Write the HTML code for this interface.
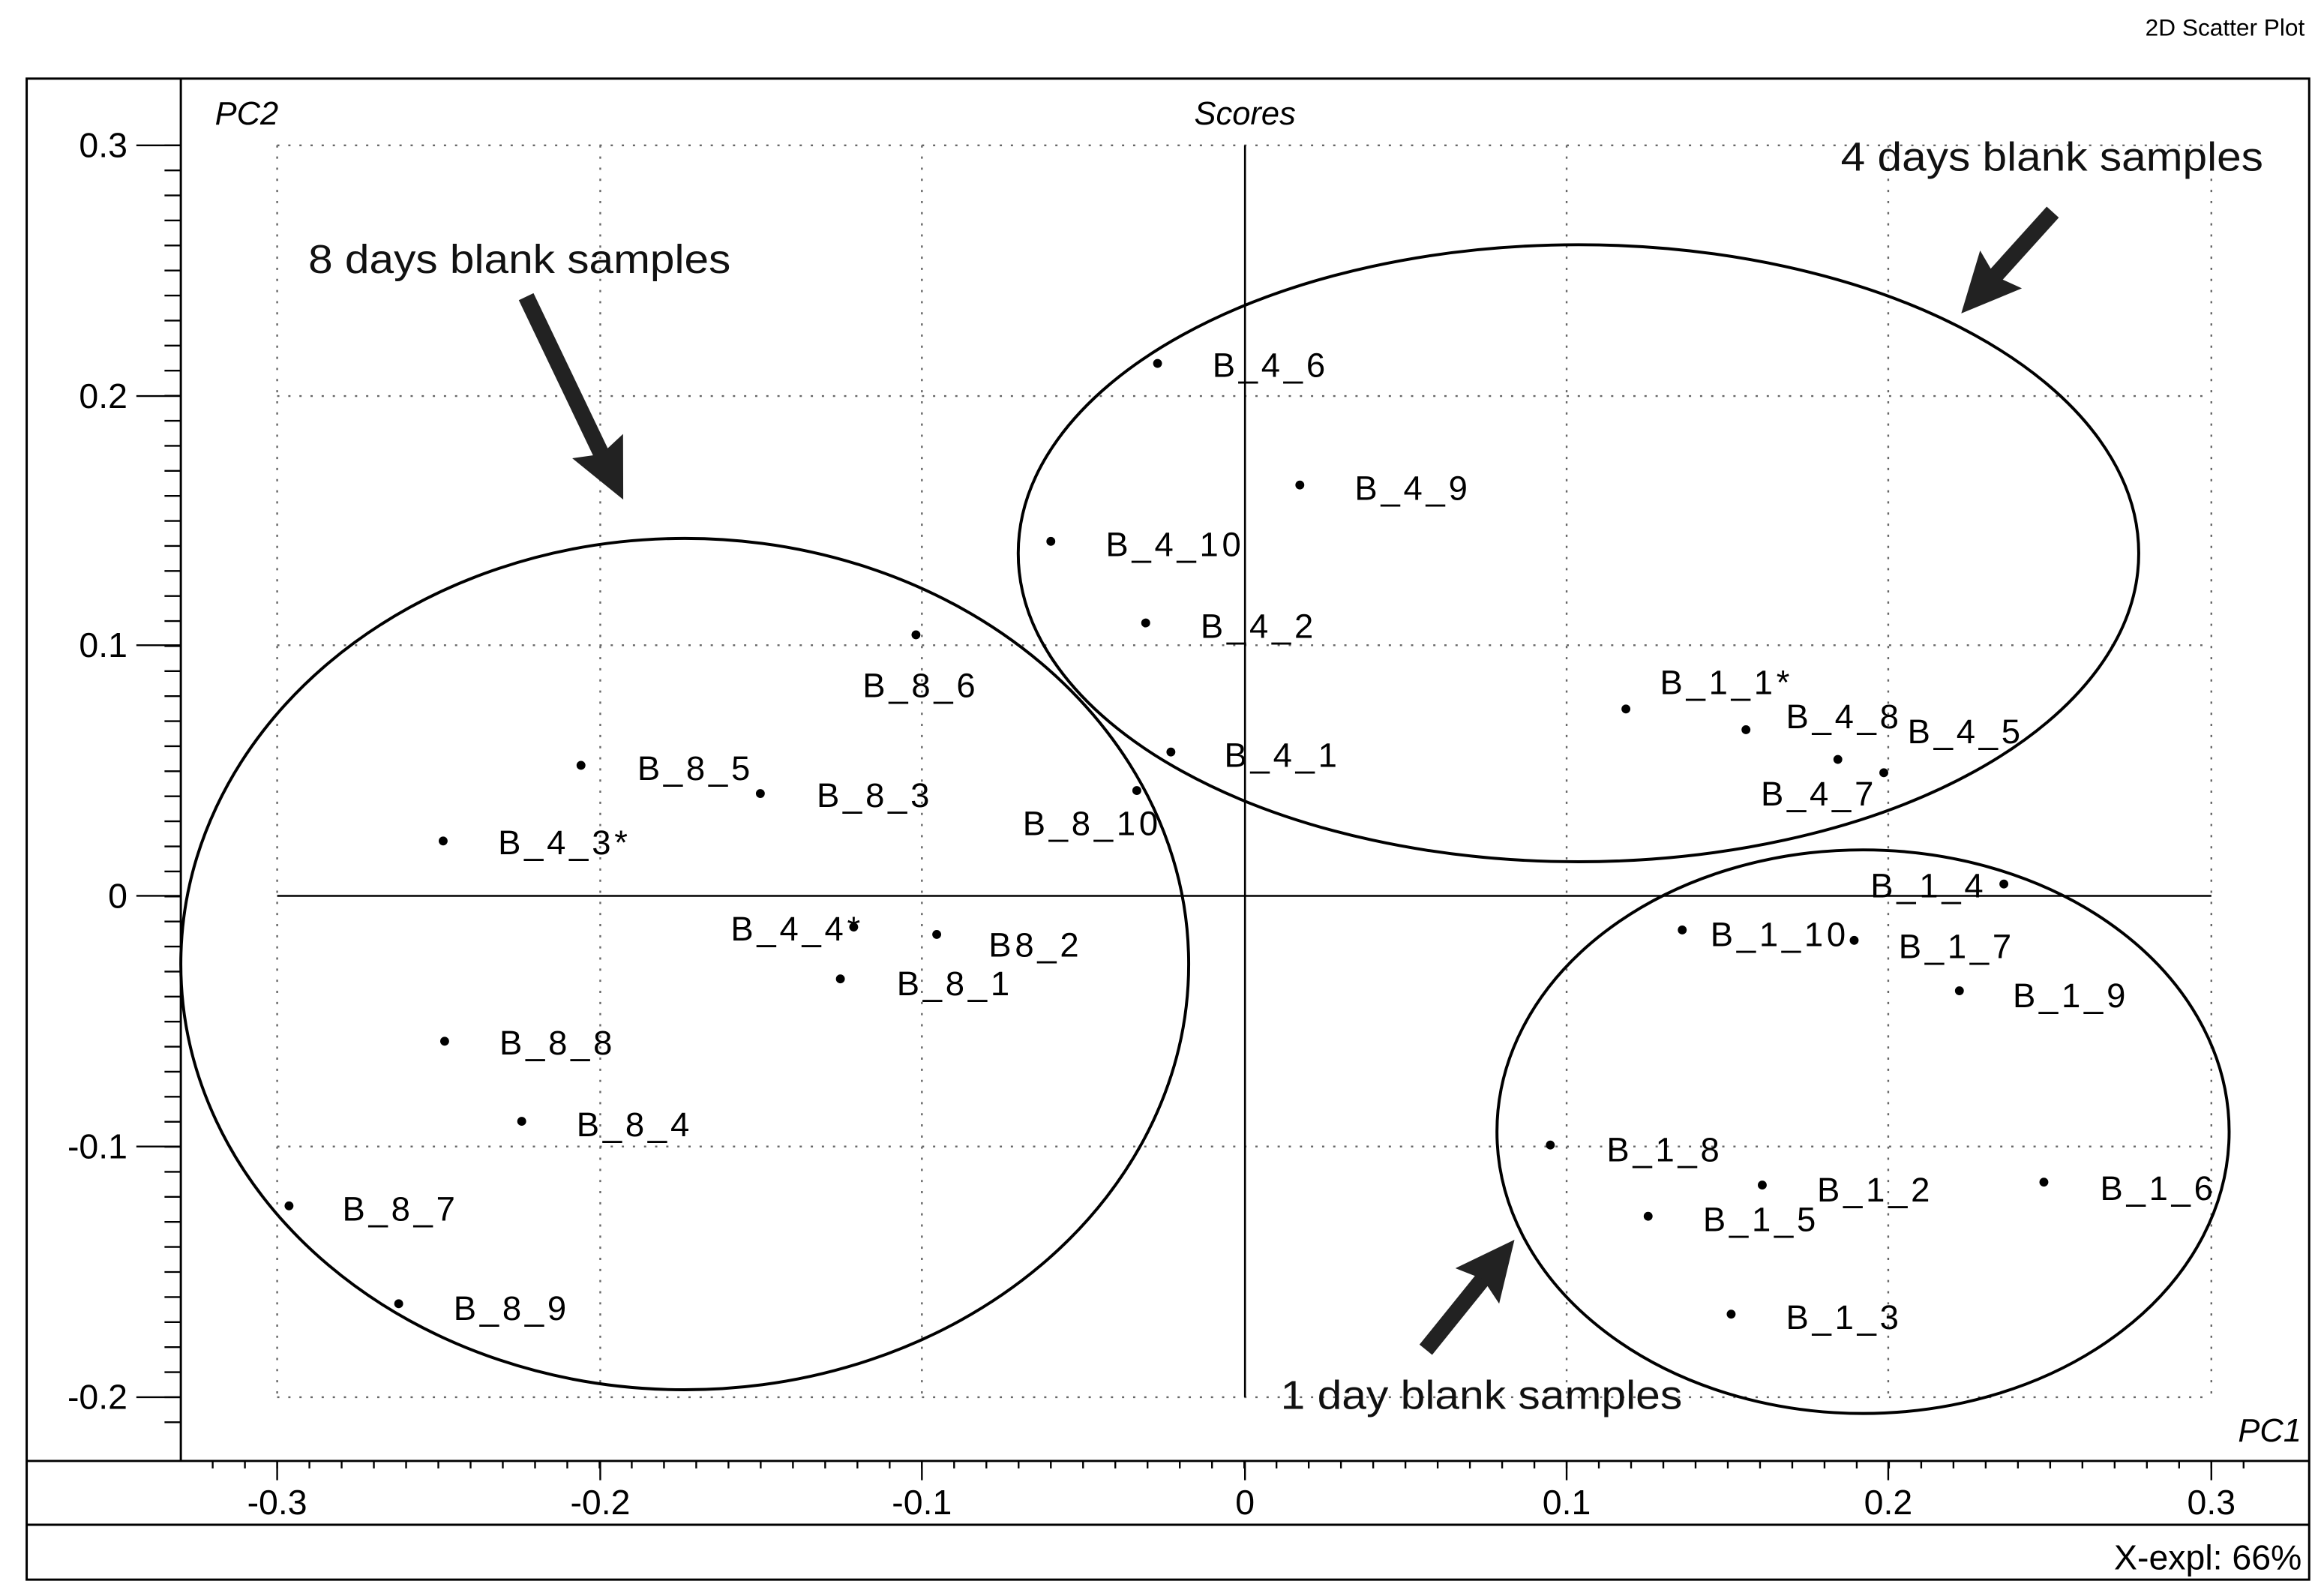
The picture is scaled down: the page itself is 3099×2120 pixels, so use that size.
<!DOCTYPE html>
<html><head><meta charset="utf-8"><style>
html,body{margin:0;padding:0;background:#fff;}
svg{display:block;}
.l{font-family:"Liberation Sans",sans-serif;font-size:23px;letter-spacing:2.4px;fill:#000;}
.t{font-family:"Liberation Sans",sans-serif;font-size:23.5px;fill:#000;}
.i{font-family:"Liberation Sans",sans-serif;font-size:22px;font-style:italic;fill:#000;}
.s{font-family:"Liberation Sans",sans-serif;font-size:27px;fill:#111;}
</style></head><body>
<svg width="3099" height="2120" viewBox="0 0 1568 1072" preserveAspectRatio="none" xmlns="http://www.w3.org/2000/svg">
<defs><marker id="ah" markerWidth="44" markerHeight="40" refX="18" refY="19" orient="auto" markerUnits="userSpaceOnUse"><path d="M0,0 L40,19 L0,38 L6,19 z" fill="#222"/></marker></defs>
<text x="1555" y="24" text-anchor="end" style="font-family:'Liberation Sans',sans-serif;font-size:16px">2D Scatter Plot</text>
<rect x="18" y="53" width="1540" height="1012" fill="none" stroke="#000" stroke-width="1.5"/>
<line x1="122" y1="53" x2="122" y2="985" stroke="#000" stroke-width="1.5"/>
<line x1="18" y1="985" x2="1558" y2="985" stroke="#000" stroke-width="1.5"/>
<line x1="18" y1="1028" x2="1558" y2="1028" stroke="#000" stroke-width="1.5"/>
<g stroke="#666" stroke-width="1.2" stroke-dasharray="1.5,6">
<line x1="187" y1="98" x2="1492" y2="98"/><line x1="187" y1="267" x2="1492" y2="267"/><line x1="187" y1="435" x2="1492" y2="435"/><line x1="187" y1="773" x2="1492" y2="773"/><line x1="187" y1="942" x2="1492" y2="942"/>
<line x1="187" y1="98" x2="187" y2="942"/><line x1="405" y1="98" x2="405" y2="942"/><line x1="622" y1="98" x2="622" y2="942"/><line x1="1057" y1="98" x2="1057" y2="942"/><line x1="1274" y1="98" x2="1274" y2="942"/><line x1="1492" y1="98" x2="1492" y2="942"/>
</g>
<line x1="840" y1="98" x2="840" y2="942" stroke="#000" stroke-width="1.3"/>
<line x1="187" y1="604" x2="1492" y2="604" stroke="#000" stroke-width="1.3"/>
<g stroke="#000" stroke-width="1.2" fill="none">
<path d="M111,98 h11 m-11,16.88 h11 m-11,16.88 h11 m-11,16.88 h11 m-11,16.88 h11 m-11,16.88 h11 m-11,16.88 h11 m-11,16.88 h11 m-11,16.88 h11 m-11,16.88 h11 m-11,16.88 h11 m-11,16.88 h11 m-11,16.88 h11 m-11,16.88 h11 m-11,16.88 h11 m-11,16.88 h11 m-11,16.88 h11 m-11,16.88 h11 m-11,16.88 h11 m-11,16.88 h11 m-11,16.88 h11 m-11,16.88 h11 m-11,16.88 h11 m-11,16.88 h11 m-11,16.88 h11 m-11,16.88 h11 m-11,16.88 h11 m-11,16.88 h11 m-11,16.88 h11 m-11,16.88 h11 m-11,16.88 h11 m-11,16.88 h11 m-11,16.88 h11 m-11,16.88 h11 m-11,16.88 h11 m-11,16.88 h11 m-11,16.88 h11 m-11,16.88 h11 m-11,16.88 h11 m-11,16.88 h11 m-11,16.88 h11 m-11,16.88 h11 m-11,16.88 h11 m-11,16.88 h11 m-11,16.88 h11 m-11,16.88 h11 m-11,16.88 h11 m-11,16.88 h11 m-11,16.88 h11 m-11,16.88 h11 m-11,16.88 h11 m-11,16.88 h11"/>
<path d="M143.5,985 v5 m21.75,-5 v5 m21.75,-5 v5 m21.75,-5 v5 m21.75,-5 v5 m21.75,-5 v5 m21.75,-5 v5 m21.75,-5 v5 m21.75,-5 v5 m21.75,-5 v5 m21.75,-5 v5 m21.75,-5 v5 m21.75,-5 v5 m21.75,-5 v5 m21.75,-5 v5 m21.75,-5 v5 m21.75,-5 v5 m21.75,-5 v5 m21.75,-5 v5 m21.75,-5 v5 m21.75,-5 v5 m21.75,-5 v5 m21.75,-5 v5 m21.75,-5 v5 m21.75,-5 v5 m21.75,-5 v5 m21.75,-5 v5 m21.75,-5 v5 m21.75,-5 v5 m21.75,-5 v5 m21.75,-5 v5 m21.75,-5 v5 m21.75,-5 v5 m21.75,-5 v5 m21.75,-5 v5 m21.75,-5 v5 m21.75,-5 v5 m21.75,-5 v5 m21.75,-5 v5 m21.75,-5 v5 m21.75,-5 v5 m21.75,-5 v5 m21.75,-5 v5 m21.75,-5 v5 m21.75,-5 v5 m21.75,-5 v5 m21.75,-5 v5 m21.75,-5 v5 m21.75,-5 v5 m21.75,-5 v5 m21.75,-5 v5 m21.75,-5 v5 m21.75,-5 v5 m21.75,-5 v5 m21.75,-5 v5 m21.75,-5 v5 m21.75,-5 v5 m21.75,-5 v5 m21.75,-5 v5 m21.75,-5 v5 m21.75,-5 v5 m21.75,-5 v5 m21.75,-5 v5 m21.75,-5 v5"/>
<path d="M92,98 h30 M92,267 h30 M92,435 h30 M92,604 h30 M92,773 h30 M92,942 h30"/>
<path d="M187,985 v13 M405,985 v13 M622,985 v13 M840,985 v13 M1057,985 v13 M1274,985 v13 M1492,985 v13"/>
</g>
<g class="t" text-anchor="end"><text x="86" y="106">0.3</text><text x="86" y="275">0.2</text><text x="86" y="443">0.1</text><text x="86" y="612">0</text><text x="86" y="781">-0.1</text><text x="86" y="950">-0.2</text></g>
<g class="t" text-anchor="middle"><text x="187" y="1021">-0.3</text><text x="405" y="1021">-0.2</text><text x="622" y="1021">-0.1</text><text x="840" y="1021">0</text><text x="1057" y="1021">0.1</text><text x="1274" y="1021">0.2</text><text x="1492" y="1021">0.3</text></g>
<text class="i" x="145" y="84">PC2</text>
<text class="i" x="840" y="84" text-anchor="middle">Scores</text>
<text class="i" x="1510" y="972">PC1</text>
<text class="t" x="1553" y="1058" text-anchor="end">X-expl: 66%</text>
<g fill="none" stroke="#000" stroke-width="2">
<ellipse cx="462" cy="650" rx="340" ry="287"/>
<ellipse cx="1065" cy="373" rx="378" ry="208"/>
<ellipse cx="1257" cy="763" rx="247" ry="190"/>
</g>
<g stroke="#222" stroke-width="11" marker-end="url(#ah)">
<line x1="355" y1="200" x2="411" y2="317"/>
<line x1="1385" y1="143" x2="1338" y2="195"/>
<line x1="962" y1="910" x2="1008" y2="853"/>
</g>
<text class="s" x="208" y="184" textLength="285" lengthAdjust="spacingAndGlyphs">8 days blank samples</text>
<text class="s" x="1242" y="115" textLength="285" lengthAdjust="spacingAndGlyphs">4 days blank samples</text>
<text class="s" x="864" y="950" textLength="271" lengthAdjust="spacingAndGlyphs">1 day blank samples</text>
<g fill="#000">
<circle cx="781" cy="245" r="3"/><circle cx="877" cy="327" r="3"/><circle cx="709" cy="365" r="3"/><circle cx="773" cy="420" r="3"/><circle cx="790" cy="507" r="3"/><circle cx="1097" cy="478" r="3"/><circle cx="1178" cy="492" r="3"/><circle cx="1240" cy="512" r="3"/><circle cx="1271" cy="521" r="3"/><circle cx="618" cy="428" r="3"/><circle cx="392" cy="516" r="3"/><circle cx="513" cy="535" r="3"/><circle cx="767" cy="533" r="3"/><circle cx="299" cy="567" r="3"/><circle cx="576" cy="625" r="3"/><circle cx="632" cy="630" r="3"/><circle cx="567" cy="660" r="3"/><circle cx="300" cy="702" r="3"/><circle cx="352" cy="756" r="3"/><circle cx="195" cy="813" r="3"/><circle cx="269" cy="879" r="3"/><circle cx="1352" cy="596" r="3"/><circle cx="1135" cy="627" r="3"/><circle cx="1251" cy="634" r="3"/><circle cx="1322" cy="668" r="3"/><circle cx="1046" cy="772" r="3"/><circle cx="1189" cy="799" r="3"/><circle cx="1379" cy="797" r="3"/><circle cx="1112" cy="820" r="3"/><circle cx="1168" cy="886" r="3"/>
</g>
<g class="l">
<text x="818" y="254">B_4_6</text><text x="914" y="337">B_4_9</text><text x="746" y="375">B_4_10</text><text x="810" y="430">B_4_2</text><text x="826" y="517">B_4_1</text>
<text x="1120" y="468">B_1_1*</text><text x="1205" y="491">B_4_8</text><text x="1287" y="501">B_4_5</text><text x="1188" y="543">B_4_7</text>
<text x="582" y="470">B_8_6</text><text x="430" y="526">B_8_5</text><text x="551" y="544">B_8_3</text><text x="690" y="563">B_8_10</text>
<text x="336" y="576">B_4_3*</text><text x="493" y="634">B_4_4*</text><text x="667" y="645">B8_2</text><text x="605" y="671">B_8_1</text>
<text x="337" y="711">B_8_8</text><text x="389" y="766">B_8_4</text><text x="231" y="823">B_8_7</text><text x="306" y="890">B_8_9</text>
<text x="1262" y="605">B_1_4</text><text x="1154" y="638">B_1_10</text><text x="1281" y="646">B_1_7</text><text x="1358" y="679">B_1_9</text>
<text x="1084" y="783">B_1_8</text><text x="1226" y="810">B_1_2</text><text x="1417" y="809">B_1_6</text><text x="1149" y="830">B_1_5</text><text x="1205" y="896">B_1_3</text>
</g>
</svg>
</body></html>
